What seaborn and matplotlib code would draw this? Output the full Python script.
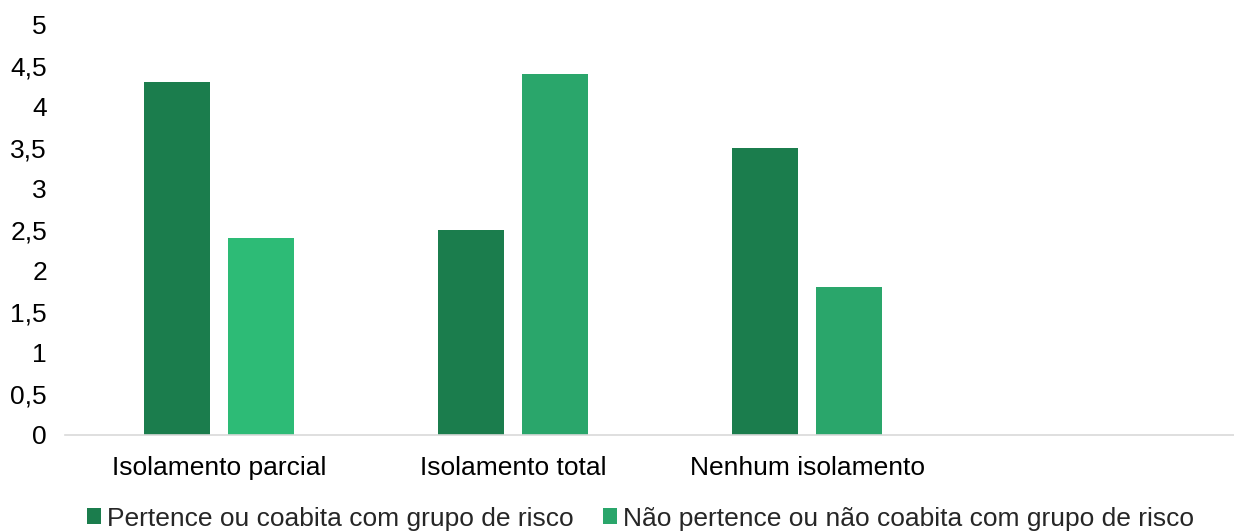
import matplotlib
matplotlib.use("Agg")
import matplotlib.pyplot as plt
import seaborn as sns
import pandas as pd
from matplotlib.patches import Patch

categories = ["Isolamento parcial", "Isolamento total", "Nenhum isolamento"]
series_names = ["Pertence ou coabita com grupo de risco",
                "Não pertence ou não coabita com grupo de risco"]
pertence = [4.3, 2.5, 3.5]
nao_pertence = [2.4, 4.4, 1.8]
y_ticks = [0, 0.5, 1, 1.5, 2, 2.5, 3, 3.5, 4, 4.5, 5]
y_tick_labels = ["0", "0,5", "1", "1,5", "2", "2,5", "3", "3,5", "4", "4,5", "5"]

df = pd.DataFrame({
    "cat": categories * 2,
    "serie": [series_names[0]] * 3 + [series_names[1]] * 3,
    "valor": pertence + nao_pertence,
})

sns.set_theme(style="white")
plt.rcParams["font.family"] = ["Liberation Sans", "DejaVu Sans"]

colors = ["#1b7d4d", "#2aa66b"]
fig = plt.figure(figsize=(12.34, 5.32), dpi=100)
ax = fig.add_axes([65 / 1234, 1 - 435 / 532, 1 - 65 / 1234, (435 - 25) / 532])
sns.barplot(data=df, x="cat", y="valor", hue="serie", hue_order=series_names,
            order=categories, palette=colors, width=0.571, gap=0.214,
            saturation=1, linewidth=0, ax=ax, legend=False)

# first light bar is a brighter green in the reference
for p in ax.patches:
    x = p.get_x() + p.get_width() / 2
    if abs(x - 0.1428) < 0.05 and abs(p.get_height() - nao_pertence[0]) < 1e-6:
        p.set_facecolor("#2dbb76")

ax.set_xlim(-0.524, 3.452)
ax.set_ylim(0, 5)
ax.set_yticks(y_ticks)
ax.set_yticklabels(y_tick_labels)
ax.set_xlabel("")
ax.set_ylabel("")
for s in ["top", "right", "left"]:
    ax.spines[s].set_visible(False)
ax.spines["bottom"].set_color("#d9d9d9")
ax.spines["bottom"].set_linewidth(1.2)
ax.tick_params(axis="y", length=0, labelsize=19, pad=13, labelcolor="#000000")
ax.tick_params(axis="x", length=0, labelsize=19, pad=15, labelcolor="#000000")

handles = [Patch(facecolor=c, edgecolor="none") for c in colors]
fig.legend(handles, series_names, loc="lower center", bbox_to_anchor=(0.519, -0.042),
           ncol=2, frameon=False, fontsize=19, handlelength=0.53, handleheight=0.53,
           handletextpad=0.23, columnspacing=1.1)

fig.savefig("out.png", dpi=100)
